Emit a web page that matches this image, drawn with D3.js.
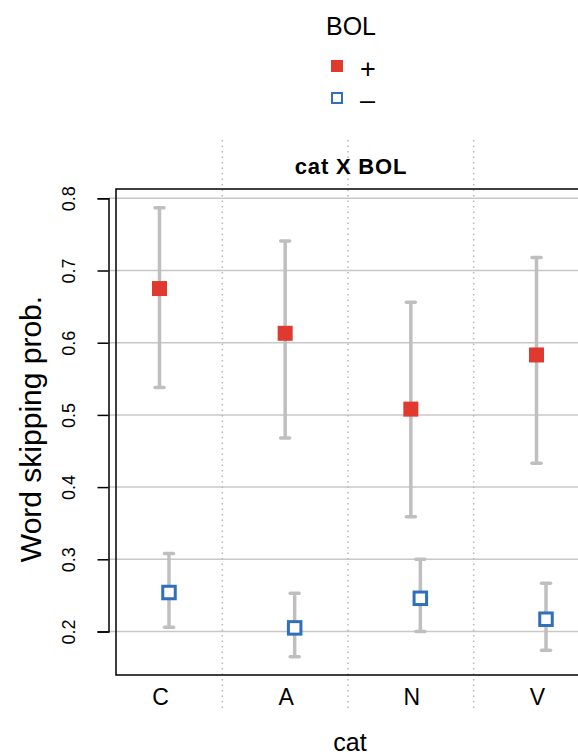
<!DOCTYPE html>
<html>
<head>
<meta charset="utf-8">
<script src="https://cdn.jsdelivr.net/npm/d3@7"></script>
<style>
	body { margin: 0; background: #fff; }
	text { font-family: "Liberation Sans", Arial, Helvetica, sans-serif; fill: #000; }
</style>
</head>
<body>
<div id="chart"></div>
<script>
// DATA
var cats = ['C', 'A', 'N', 'V'];
var bolLevels = ['+', '–'];
var plusFit = [0.675, 0.613, 0.508, 0.583];
var plusLower = [0.538, 0.468, 0.359, 0.433];
var plusUpper = [0.787, 0.741, 0.656, 0.718];
var minusFit = [0.254, 0.205, 0.246, 0.217];
var minusLower = [0.206, 0.165, 0.200, 0.174];
var minusUpper = [0.308, 0.253, 0.300, 0.267];
var yTicks = [0.2, 0.3, 0.4, 0.5, 0.6, 0.7, 0.8];

var width = 578, height = 756;
var box = { left: 116, top: 189, bottom: 675 };
var red = '#e0392f', blue = '#2f6fbc', barGrey = '#bfbfbf';

var svg = d3.select('#chart')
	.append('svg')
		.attr('width', width)
		.attr('height', height);

// SCALES
var x = d3.scalePoint()
	.domain(cats)
	.range([159.5, 536.5]);

var y = d3.scaleLinear()
	.domain([0.2, 0.8])
	.range([631.5, 198.3]);

var dodge = 9.5;
var step = x.step();

// horizontal gridlines
svg.append('g')
	.selectAll('line')
	.data(yTicks)
	.join('line')
		.attr('x1', 109)
		.attr('x2', width)
		.attr('y1', d => y(d))
		.attr('y2', d => y(d))
		.style('stroke', '#c8c8c8')
		.style('stroke-width', 1.5);

// dotted separators between categories
svg.append('g')
	.selectAll('line')
	.data(cats.slice(1))
	.join('line')
		.attr('x1', d => x(d) - step / 2)
		.attr('x2', d => x(d) - step / 2)
		.attr('y1', 140)
		.attr('y2', 710)
		.style('stroke', '#b8b8b8')
		.style('stroke-width', 1.5)
		.style('stroke-dasharray', '1.5,4');

// plot frame (right side runs off the page)
svg.append('path')
	.attr('d', `M${width + 5},${box.top}H${box.left}V${box.bottom}H${width + 5}`)
	.style('fill', 'none')
	.style('stroke', '#000')
	.style('stroke-width', 1.5);

// y axis
var yAxis = d3.axisLeft(y)
	.tickValues(yTicks)
	.tickSize(11)
	.tickFormat(d3.format('.1f'));

var yAxisG = svg.append('g')
	.attr('transform', 'translate(108.5,0)')
	.call(yAxis);
yAxisG.select('.domain').style('stroke-width', 1.5);
yAxisG.selectAll('.tick line').style('stroke-width', 1.5);
yAxisG.selectAll('.tick text')
	.style('font-size', '18px')
	.attr('text-anchor', 'middle')
	.attr('transform', 'translate(-39.5,0) rotate(-90)')
	.attr('x', 0)
	.attr('y', 0)
	.attr('dy', '0.36em');

// category labels
svg.append('g')
	.selectAll('text')
	.data(cats)
	.join('text')
		.attr('x', d => x(d) + 1)
		.attr('y', 705)
		.attr('text-anchor', 'middle')
		.style('font-size', '23px')
		.text(d => d);

// series
var series = [
	{ level: bolLevels[0], fit: plusFit, lower: plusLower, upper: plusUpper, off: 0 },
	{ level: bolLevels[1], fit: minusFit, lower: minusLower, upper: minusUpper, off: dodge }
];

series.forEach(function(s){
	var rows = cats.map((c, i) => ({ cat: c, fit: s.fit[i], lo: s.lower[i], hi: s.upper[i] }));
	var g = svg.append('g');

	g.selectAll('.bar')
		.data(rows)
		.join('line')
			.attr('x1', d => x(d.cat) + s.off)
			.attr('x2', d => x(d.cat) + s.off)
			.attr('y1', d => y(d.lo))
			.attr('y2', d => y(d.hi))
			.style('stroke', barGrey)
			.style('stroke-width', 3.5);

	['lo', 'hi'].forEach(function(k){
		g.selectAll('.cap-' + k)
			.data(rows)
			.join('line')
				.attr('x1', d => x(d.cat) + s.off - 4.5)
				.attr('x2', d => x(d.cat) + s.off + 4.5)
				.attr('y1', d => y(d[k]))
				.attr('y2', d => y(d[k]))
				.style('stroke', barGrey)
				.style('stroke-width', 3.5)
				.style('stroke-linecap', 'round');
	});

	if (s.off === 0) {
		g.selectAll('.pt')
			.data(rows)
			.join('rect')
				.attr('x', d => x(d.cat) + s.off - 7.5)
				.attr('y', d => y(d.fit) - 7.5)
				.attr('width', 15)
				.attr('height', 15)
				.style('fill', red);
	} else {
		g.selectAll('.pt')
			.data(rows)
			.join('rect')
				.attr('x', d => x(d.cat) + s.off - 6.25)
				.attr('y', d => y(d.fit) - 6.25)
				.attr('width', 12.5)
				.attr('height', 12.5)
				.style('fill', '#fff')
				.style('stroke', blue)
				.style('stroke-width', 3);
	}
});

// titles
svg.append('text')
	.attr('x', 351)
	.attr('y', 173.5)
	.attr('text-anchor', 'middle')
	.style('font-size', '22px')
	.style('font-weight', 'bold')
	.style('letter-spacing', '0.8px')
	.text('cat X BOL');

svg.append('text')
	.attr('transform', 'translate(41,429) rotate(-90)')
	.attr('text-anchor', 'middle')
	.style('font-size', '30px')
	.text('Word skipping prob.');

svg.append('text')
	.attr('x', 350)
	.attr('y', 751)
	.attr('text-anchor', 'middle')
	.style('font-size', '25px')
	.text('cat');

// legend
var legend = svg.append('g');
legend.append('text')
	.attr('x', 351)
	.attr('y', 35)
	.attr('text-anchor', 'middle')
	.style('font-size', '25px')
	.text('BOL');

legend.append('rect')
	.attr('x', 331)
	.attr('y', 60)
	.attr('width', 12)
	.attr('height', 12)
	.style('fill', red);
legend.append('rect')
	.attr('x', 332)
	.attr('y', 93)
	.attr('width', 10)
	.attr('height', 10)
	.style('fill', '#fff')
	.style('stroke', blue)
	.style('stroke-width', 2);

legend.selectAll('.lab')
	.data(bolLevels)
	.join('text')
		.attr('x', 360)
		.attr('y', (d, i) => 78 + i * 31)
		.style('font-size', '27px')
		.text(d => d);
</script>
</body>
</html>
